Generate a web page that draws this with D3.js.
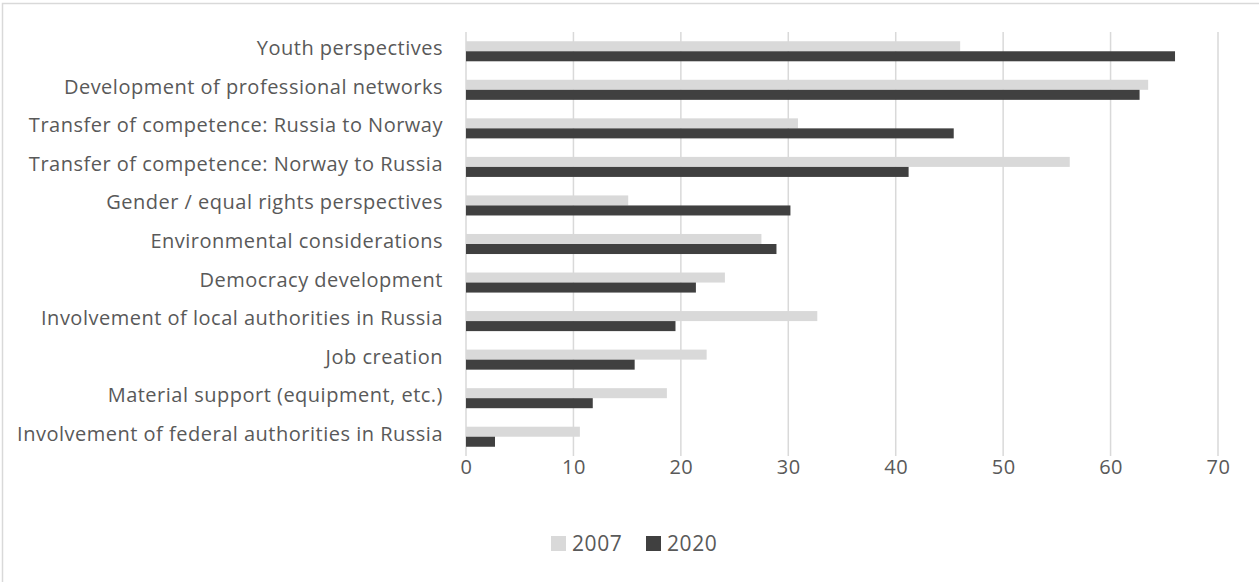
<!DOCTYPE html>
<html lang="en">
<head>
  <meta charset="UTF-8" />
  <title>Bar chart</title>
  <script src="https://d3js.org/d3.v7.min.js"></script>
  <style>
    body { margin: 0; background: #fff; }
    text { font-family: "Open Sans", sans-serif; fill: #595959; }
    .grid line { stroke: #d9d9d9; stroke-width: 1.5px; }
  </style>
</head>
<body>
  <svg id="chart" width="1259" height="582"></svg>
  <script>
    const categories = [
      "Youth perspectives",
      "Development of professional networks",
      "Transfer of competence: Russia to Norway",
      "Transfer of competence: Norway to Russia",
      "Gender / equal rights perspectives",
      "Environmental considerations",
      "Democracy development",
      "Involvement of local authorities in Russia",
      "Job creation",
      "Material support (equipment, etc.)",
      "Involvement of federal authorities in Russia"
    ];
    const values2007 = [46.0, 63.5, 30.9, 56.2, 15.1, 27.5, 24.1, 32.7, 22.4, 18.7, 10.6];
    const values2020 = [66.0, 62.7, 45.4, 41.2, 30.2, 28.9, 21.4, 19.5, 15.7, 11.8, 2.7];
    const seriesNames = ["2007", "2020"];
    const xTicks = [0, 10, 20, 30, 40, 50, 60, 70];

    const colors = { "2007": "#d9d9d9", "2020": "#404040" };

    const svg = d3.select("#chart");
    const margin = { top: 32, left: 466, right: 41, bottom: 126 };
    const plotW = 1259 - margin.left - margin.right;
    const plotH = 582 - margin.top - margin.bottom;

    // chart border (clipped at right and bottom like the original)
    svg.append("rect")
      .attr("x", 2.5).attr("y", 3.5)
      .attr("width", 1300).attr("height", 700)
      .attr("fill", "none").attr("stroke", "#d9d9d9").attr("stroke-width", 1.5);

    const x = d3.scaleLinear().domain([0, 70]).range([0, plotW]);
    const y = d3.scaleBand().domain(categories).range([0, plotH]).paddingInner(0.48).paddingOuter(0.24);
    const ySub = d3.scaleBand().domain(seriesNames).range([0, y.bandwidth()]);

    const g = svg.append("g").attr("transform", `translate(${margin.left},${margin.top})`);

    // gridlines
    g.append("g").attr("class", "grid")
      .selectAll("line")
      .data(xTicks)
      .join("line")
      .attr("x1", d => x(d)).attr("x2", d => x(d))
      .attr("y1", 0).attr("y2", plotH);

    // bars
    const rows = categories.map((c, i) => ({ c, v: { "2007": values2007[i], "2020": values2020[i] } }));
    const groups = g.selectAll("g.row")
      .data(rows)
      .join("g")
      .attr("class", "row")
      .attr("transform", d => `translate(0,${y(d.c)})`);

    groups.selectAll("rect")
      .data(d => seriesNames.map(s => ({ s, v: d.v[s] })))
      .join("rect")
      .attr("x", 0)
      .attr("y", d => ySub(d.s))
      .attr("width", d => x(d.v))
      .attr("height", ySub.bandwidth())
      .attr("fill", d => colors[d.s]);

    // category labels
    const yAxis = d3.axisLeft(y).tickSize(0).tickPadding(23);
    g.append("g").call(yAxis)
      .call(s => s.select(".domain").remove())
      .selectAll("text")
      .attr("dy", "0.2em")
      .style("font-size", "20px")
      .style("letter-spacing", "0.5px")
      .attr("fill", "#595959");

    // x tick labels
    const xAxis = d3.axisBottom(x).tickValues(xTicks).tickSize(0).tickPadding(4);
    g.append("g").attr("transform", `translate(0,${plotH})`).call(xAxis)
      .call(s => s.select(".domain").remove())
      .selectAll("text")
      .style("font-size", "20px")
      .style("letter-spacing", "0.5px")
      .attr("fill", "#595959");

    // legend
    const legend = svg.append("g").attr("transform", "translate(551,536)");
    const items = legend.selectAll("g")
      .data(seriesNames)
      .join("g")
      .attr("transform", (d, i) => `translate(${i * 95},0)`);
    items.append("rect").attr("width", 15).attr("height", 15).attr("fill", d => colors[d]);
    items.append("text").attr("x", 21).attr("y", 15)
      .style("font-size", "21px")
      .style("letter-spacing", "0.6px")
      .text(d => d);
  </script>
</body>
</html>
